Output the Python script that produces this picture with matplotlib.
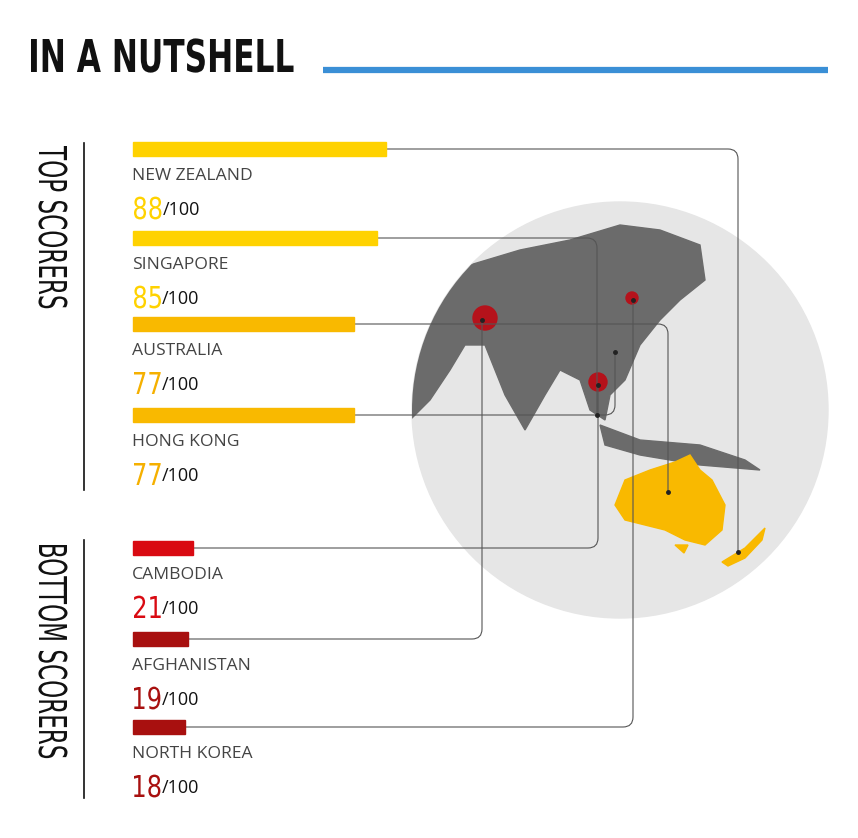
import matplotlib.pyplot as plt
from matplotlib.patches import Circle, Polygon, Rectangle, PathPatch
from matplotlib.path import Path
from matplotlib.textpath import TextPath
from matplotlib.font_manager import FontProperties
from matplotlib.transforms import Affine2D

# DATA
countries = ["NEW ZEALAND", "SINGAPORE", "AUSTRALIA", "HONG KONG",
             "CAMBODIA", "AFGHANISTAN", "NORTH KOREA"]
scores = [88, 85, 77, 77, 21, 19, 18]
bar_colors = ["#ffd200", "#ffd200", "#f9b900", "#f9b900",
              "#d90a12", "#a8100f", "#a8100f"]
num_colors = ["#ffd200", "#ffd200", "#f5b000", "#f5b000",
              "#d90a12", "#a8100f", "#a8100f"]
# where each leader line lands on the map (pixels)
targets = [(738, 552), (597, 415), (668, 492), (615, 352),
           (598, 385), (482, 320), (633, 300)]

W, H = 858, 838
BAR_Y = [149, 238, 324, 415, 548, 639, 727]
X0, SCALE = 133, 2.87

fig = plt.figure(figsize=(W / 100, H / 100), dpi=100)
ax = fig.add_axes([0, 0, 1, 1])
ax.set_xlim(0, W)
ax.set_ylim(H, 0)
ax.axis("off")


def cond_text(s, x, top, cap, color, sx=0.62, weight="normal", vertical=False):
    """Draws condensed text as a path; returns the right (or bottom) end."""
    fp = FontProperties(family="DejaVu Sans", weight=weight)
    tp = TextPath((0, 0), s, size=100, prop=fp)
    capref = TextPath((0, 0), "H", size=100, prop=fp).get_extents().height
    k = cap / capref
    ext = tp.get_extents()
    if vertical:
        # reading downwards, letter tops facing right
        tr = (Affine2D().translate(-ext.x0, 0).scale(k * sx, k)
              .rotate_deg(-90).scale(1, -1).translate(x, top))
        end = top + ext.width * k * sx
    else:
        tr = Affine2D().translate(-ext.x0, 0).scale(k * sx, -k).translate(x, top + cap)
        end = x + ext.width * k * sx
    ax.add_patch(PathPatch(tr.transform_path(tp), fc=color, ec="none", zorder=7))
    return end


# title
cond_text("IN A NUTSHELL", 31, 39, 33, "#111111", sx=0.69, weight="bold")
ax.plot([323, 828], [70, 70], color="#3a8fd6", lw=4.5, solid_capstyle="butt")

# globe
globe = Circle((620, 410), 208, color="#e6e6e6", zorder=1)
ax.add_patch(globe)
asia = Polygon([(410, 300), (440, 280), (470, 265), (520, 250), (570, 240),
                (620, 225), (660, 230), (700, 245), (705, 280), (680, 300),
                (660, 320), (640, 345), (625, 380), (610, 395), (605, 420),
                (590, 410), (580, 380), (560, 370), (545, 395), (525, 430),
                (505, 395), (485, 345), (465, 345), (450, 370), (430, 400),
                (410, 420)],
               color="#6b6b6b", zorder=2)
asia.set_clip_path(globe)
ax.add_patch(asia)
islands = Polygon([(600, 425), (640, 440), (700, 445), (745, 460),
                   (760, 470), (700, 465), (640, 455), (605, 445)],
                  color="#6b6b6b", zorder=2)
islands.set_clip_path(globe)
ax.add_patch(islands)
aus = Polygon([(625, 480), (650, 470), (675, 462), (690, 455), (700, 470),
               (712, 480), (725, 505), (722, 530), (705, 545), (685, 540),
               (665, 530), (645, 525), (625, 520), (615, 505)],
              color="#f9b900", zorder=3)
ax.add_patch(aus)
ax.add_patch(Polygon([(722, 562), (745, 548), (765, 528), (762, 540), (745, 558),
                      (728, 566)], color="#f9b900", zorder=3))
ax.add_patch(Polygon([(675, 545), (688, 545), (684, 553)], color="#f9b900", zorder=3))
# highlighted low scorers
for (cx, cy), r in [((485, 318), 12), ((598, 382), 9), ((632, 298), 6)]:
    ax.add_patch(Circle((cx, cy), r, color="#b5121b", zorder=4))

# leader lines
for by, s, (tx, ty) in zip(BAR_Y, scores, targets):
    xe = X0 + s * SCALE
    r = 10
    sgn = 1 if ty > by else -1
    verts = [(xe, by), (tx - r, by), (tx, by), (tx, by + sgn * r), (tx, ty)]
    codes = [Path.MOVETO, Path.LINETO, Path.CURVE3, Path.CURVE3, Path.LINETO]
    ax.add_patch(PathPatch(Path(verts, codes), fill=False, ec="#555555",
                           lw=0.8, zorder=5))
    ax.plot(tx, ty, "o", ms=2.5, color="#222222", zorder=6)

# bars and labels
for i, (name, s) in enumerate(zip(countries, scores)):
    by = BAR_Y[i]
    ax.add_patch(Rectangle((X0, by - 7), s * SCALE, 14, color=bar_colors[i], zorder=6))
    ax.text(X0 - 1, by + 27, name, fontsize=12.6, color="#444444", va="center",
            family="Open Sans")
    xe = cond_text(str(s), X0 + 1, by + 48, 22, num_colors[i], sx=0.8)
    ax.text(xe + 1, by + 61, "/100", fontsize=13, color="#111111", va="center",
            family="Open Sans")

# side labels
ax.plot([84, 84], [143, 490], color="#111111", lw=1.2)
ax.plot([84, 84], [540, 798], color="#111111", lw=1.2)
cond_text("TOP SCORERS", 39, 146, 28, "#111111", sx=0.6, vertical=True)
cond_text("BOTTOM SCORERS", 39, 545, 28, "#111111", sx=0.6, vertical=True)

fig.savefig("out.png", dpi=100)
